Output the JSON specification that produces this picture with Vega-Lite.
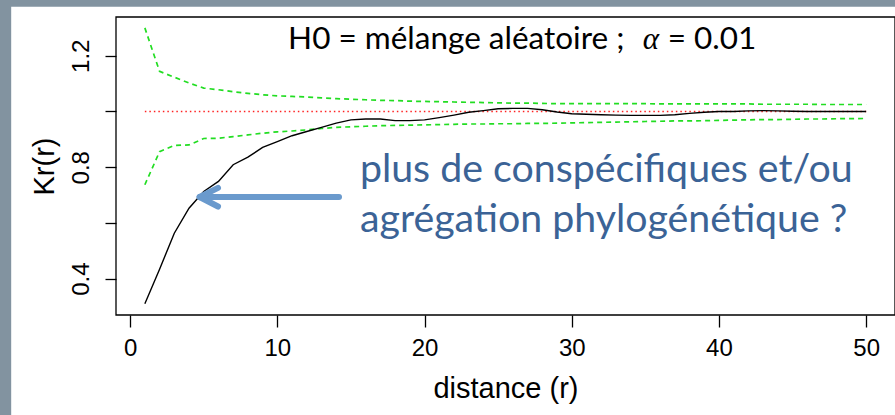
{
  "$schema": "https://vega.github.io/schema/vega-lite/v6.json",
  "width": 779,
  "height": 298,
  "autosize": {"type": "none"},
  "padding": {"left": 116, "top": 17, "right": 0, "bottom": 100},
  "background": "#8293a0",
  "config": {
    "view": {"stroke": null},
    "font": "Liberation Sans"
  },
  "data": {"values": [
    {"r": 1, "obs": 0.310, "lo": 0.737, "hi": 1.300, "theo": 1},
    {"r": 2, "obs": 0.434, "lo": 0.856, "hi": 1.144, "theo": 1},
    {"r": 3, "obs": 0.563, "lo": 0.878, "hi": 1.123, "theo": 1},
    {"r": 4, "obs": 0.653, "lo": 0.880, "hi": 1.102, "theo": 1},
    {"r": 5, "obs": 0.713, "lo": 0.903, "hi": 1.084, "theo": 1},
    {"r": 6, "obs": 0.749, "lo": 0.904, "hi": 1.078, "theo": 1},
    {"r": 7, "obs": 0.809, "lo": 0.910, "hi": 1.071, "theo": 1},
    {"r": 8, "obs": 0.836, "lo": 0.916, "hi": 1.065, "theo": 1},
    {"r": 9, "obs": 0.871, "lo": 0.922, "hi": 1.060, "theo": 1},
    {"r": 10, "obs": 0.892, "lo": 0.927, "hi": 1.056, "theo": 1},
    {"r": 11, "obs": 0.913, "lo": 0.930, "hi": 1.054, "theo": 1},
    {"r": 12, "obs": 0.928, "lo": 0.934, "hi": 1.052, "theo": 1},
    {"r": 13, "obs": 0.943, "lo": 0.939, "hi": 1.049, "theo": 1},
    {"r": 14, "obs": 0.958, "lo": 0.943, "hi": 1.046, "theo": 1},
    {"r": 15, "obs": 0.970, "lo": 0.945, "hi": 1.044, "theo": 1},
    {"r": 16, "obs": 0.973, "lo": 0.947, "hi": 1.042, "theo": 1},
    {"r": 17, "obs": 0.973, "lo": 0.949, "hi": 1.040, "theo": 1},
    {"r": 18, "obs": 0.967, "lo": 0.950, "hi": 1.039, "theo": 1},
    {"r": 19, "obs": 0.967, "lo": 0.951, "hi": 1.037, "theo": 1},
    {"r": 20, "obs": 0.970, "lo": 0.952, "hi": 1.036, "theo": 1},
    {"r": 21, "obs": 0.978, "lo": 0.953, "hi": 1.035, "theo": 1},
    {"r": 22, "obs": 0.987, "lo": 0.954, "hi": 1.034, "theo": 1},
    {"r": 23, "obs": 0.997, "lo": 0.955, "hi": 1.033, "theo": 1},
    {"r": 24, "obs": 1.003, "lo": 0.955, "hi": 1.032, "theo": 1},
    {"r": 25, "obs": 1.010, "lo": 0.956, "hi": 1.031, "theo": 1},
    {"r": 26, "obs": 1.011, "lo": 0.956, "hi": 1.030, "theo": 1},
    {"r": 27, "obs": 1.011, "lo": 0.957, "hi": 1.030, "theo": 1},
    {"r": 28, "obs": 1.006, "lo": 0.957, "hi": 1.029, "theo": 1},
    {"r": 29, "obs": 0.998, "lo": 0.958, "hi": 1.028, "theo": 1},
    {"r": 30, "obs": 0.992, "lo": 0.959, "hi": 1.028, "theo": 1},
    {"r": 31, "obs": 0.990, "lo": 0.960, "hi": 1.028, "theo": 1},
    {"r": 32, "obs": 0.988, "lo": 0.961, "hi": 1.028, "theo": 1},
    {"r": 33, "obs": 0.987, "lo": 0.962, "hi": 1.028, "theo": 1},
    {"r": 34, "obs": 0.986, "lo": 0.963, "hi": 1.028, "theo": 1},
    {"r": 35, "obs": 0.986, "lo": 0.964, "hi": 1.028, "theo": 1},
    {"r": 36, "obs": 0.986, "lo": 0.965, "hi": 1.027, "theo": 1},
    {"r": 37, "obs": 0.988, "lo": 0.966, "hi": 1.027, "theo": 1},
    {"r": 38, "obs": 0.993, "lo": 0.966, "hi": 1.027, "theo": 1},
    {"r": 39, "obs": 0.997, "lo": 0.967, "hi": 1.027, "theo": 1},
    {"r": 40, "obs": 1.000, "lo": 0.968, "hi": 1.027, "theo": 1},
    {"r": 41, "obs": 1.000, "lo": 0.969, "hi": 1.027, "theo": 1},
    {"r": 42, "obs": 1.002, "lo": 0.970, "hi": 1.027, "theo": 1},
    {"r": 43, "obs": 1.003, "lo": 0.971, "hi": 1.026, "theo": 1},
    {"r": 44, "obs": 1.002, "lo": 0.971, "hi": 1.026, "theo": 1},
    {"r": 45, "obs": 1.001, "lo": 0.972, "hi": 1.026, "theo": 1},
    {"r": 46, "obs": 1.000, "lo": 0.973, "hi": 1.026, "theo": 1},
    {"r": 47, "obs": 1.000, "lo": 0.973, "hi": 1.025, "theo": 1},
    {"r": 48, "obs": 1.000, "lo": 0.974, "hi": 1.025, "theo": 1},
    {"r": 49, "obs": 1.000, "lo": 0.974, "hi": 1.025, "theo": 1},
    {"r": 50, "obs": 1.000, "lo": 0.975, "hi": 1.025, "theo": 1}
  ]},
  "encoding": {
    "x": {
      "field": "r", "type": "quantitative",
      "scale": {"domain": [-0.96, 51.96], "nice": false, "zero": false},
      "axis": {
        "title": "distance (r)", "values": [0, 10, 20, 30, 40, 50], "zindex": 1,
        "domain": false, "grid": false, "tickSize": 12, "tickColor": "black", "tickWidth": 1.3,
        "labelFontSize": 24, "labelColor": "black", "labelPadding": 9, "labelFont": "Liberation Sans",
        "titleFontSize": 29, "titleFontWeight": "normal", "titleColor": "black", "titlePadding": 14, "titleFont": "Liberation Sans"
      }
    }
  },
  "layer": [
    {
      "transform": [{"filter": "datum.r == 1"}],
      "mark": {"type": "rect", "clip": false, "color": "white"},
      "encoding": {
        "x": {"datum": -8.08, "type": "quantitative"},
        "x2": {"datum": 60},
        "y": {"datum": 1.376, "type": "quantitative"},
        "y2": {"datum": -0.3}
      }
    },
    {
      "transform": [{"filter": "datum.r == 1"}],
      "mark": {"type": "rect", "clip": false, "fill": null, "filled": false, "stroke": "black", "strokeWidth": 1.3},
      "encoding": {
        "x": {"datum": -0.96, "type": "quantitative"},
        "x2": {"datum": 51.96},
        "y": {"datum": 1.339, "type": "quantitative"},
        "y2": {"datum": 0.2697}
      }
    },
    {
      "mark": {"type": "line", "color": "#22dd22", "strokeDash": [5, 4], "strokeWidth": 1.7},
      "encoding": {
        "y": {
          "field": "hi", "type": "quantitative",
          "scale": {"domain": [0.2697, 1.339], "nice": false, "zero": false},
          "axis": {
            "title": "Kr(r)", "values": [0.4, 0.6, 0.8, 1.0, 1.2], "format": ".1f", "zindex": 1,
            "labelExpr": "indexof(['0.4','0.8','1.2'], datum.label) >= 0 ? datum.label : ''",
            "domain": false, "grid": false, "tickSize": 11, "tickColor": "black", "tickWidth": 1.3,
            "labelAngle": 270, "labelAlign": "center", "labelBaseline": "alphabetic", "labelPadding": 17,
            "labelFontSize": 24, "labelColor": "black", "labelFont": "Liberation Sans",
            "titleAngle": 270, "titleFontSize": 29, "titleFontWeight": "normal", "titleColor": "black",
            "titlePadding": 10, "titleFont": "Liberation Sans"
          }
        }
      }
    },
    {
      "mark": {"type": "line", "color": "#22dd22", "strokeDash": [5, 4], "strokeWidth": 1.7},
      "encoding": {"y": {"field": "lo", "type": "quantitative"}}
    },
    {
      "mark": {"type": "line", "color": "#ff2222", "strokeDash": [1.5, 3], "strokeWidth": 1.5},
      "encoding": {"y": {"field": "theo", "type": "quantitative"}}
    },
    {
      "mark": {"type": "line", "color": "black", "strokeWidth": 1.4},
      "encoding": {"y": {"field": "obs", "type": "quantitative"}}
    },
    {
      "transform": [{"filter": "datum.r == 1"}],
      "mark": {"type": "rule", "color": "#6a9acd", "strokeWidth": 6, "strokeCap": "round"},
      "encoding": {
        "x": {"datum": 14.19, "type": "quantitative"}, "x2": {"datum": 4.75},
        "y": {"datum": 0.693, "type": "quantitative"}, "y2": {"datum": 0.693}
      }
    },
    {
      "transform": [{"filter": "datum.r == 1"}],
      "mark": {"type": "rule", "color": "#6a9acd", "strokeWidth": 6, "strokeCap": "round"},
      "encoding": {
        "x": {"datum": 4.72, "type": "quantitative"}, "x2": {"datum": 5.97},
        "y": {"datum": 0.693, "type": "quantitative"}, "y2": {"datum": 0.726}
      }
    },
    {
      "transform": [{"filter": "datum.r == 1"}],
      "mark": {"type": "rule", "color": "#6a9acd", "strokeWidth": 6, "strokeCap": "round"},
      "encoding": {
        "x": {"datum": 4.72, "type": "quantitative"}, "x2": {"datum": 5.97},
        "y": {"datum": 0.693, "type": "quantitative"}, "y2": {"datum": 0.659}
      }
    },
    {
      "transform": [{"filter": "datum.r == 1"}],
      "mark": {"type": "text", "font": "Lato", "fontSize": 31.5, "color": "black", "align": "left", "baseline": "alphabetic",
               "text": "H0 = mélange aléatoire ;"},
      "encoding": {
        "x": {"datum": 10.73, "type": "quantitative"},
        "y": {"datum": 1.224, "type": "quantitative"}
      }
    },
    {
      "transform": [{"filter": "datum.r == 1"}],
      "mark": {"type": "text", "font": "Liberation Serif", "fontStyle": "italic", "fontSize": 31, "color": "black", "align": "center", "baseline": "alphabetic",
               "text": "α"},
      "encoding": {
        "x": {"datum": 35.37, "type": "quantitative"},
        "y": {"datum": 1.224, "type": "quantitative"}
      }
    },
    {
      "transform": [{"filter": "datum.r == 1"}],
      "mark": {"type": "text", "font": "Lato", "fontSize": 31.5, "color": "black", "align": "left", "baseline": "alphabetic",
               "text": "= 0.01"},
      "encoding": {
        "x": {"datum": 36.52, "type": "quantitative"},
        "y": {"datum": 1.224, "type": "quantitative"}
      }
    },
    {
      "transform": [{"filter": "datum.r == 1"}],
      "mark": {"type": "text", "font": "Lato", "fontSize": 39.3, "color": "#3b6396", "align": "left", "baseline": "alphabetic",
               "lineHeight": 50, "text": ["plus de conspécifiques et/ou", "agrégation phylogénétique ?"]},
      "encoding": {
        "x": {"datum": 15.61, "type": "quantitative"},
        "y": {"datum": 0.748, "type": "quantitative"}
      }
    }
  ]
}
